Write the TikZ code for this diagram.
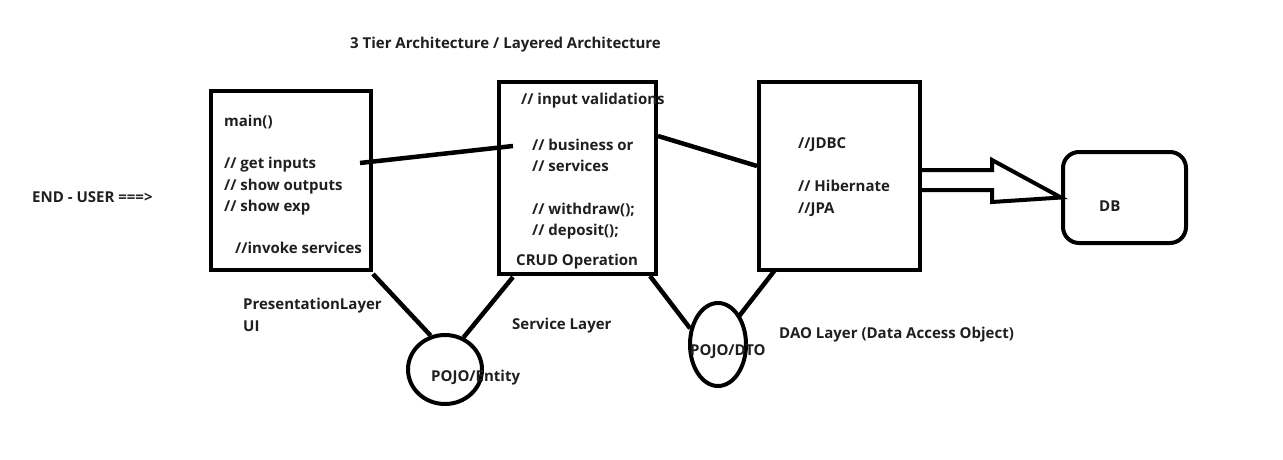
\documentclass[tikz,border=0pt]{standalone}
\usepackage{fontspec}
\setmainfont{Open Sans}
\usetikzlibrary{calc,shapes.geometric}
\begin{document}
\begin{tikzpicture}[x=1pt,y=-1pt,
  lbl/.style={anchor=base west,inner sep=0pt,font=\fontsize{15}{18}\selectfont\bfseries,text=black!88},
  layer/.style={draw,line width=4pt,rectangle,minimum width=#1,inner sep=0pt},
  pojo/.style={draw,line width=4pt,ellipse,inner sep=0pt},
  wire/.style={line width=4.5pt}]
\useasboundingbox (0,0) rectangle (1283,460);
% title & user
\node[lbl] (title) at (350,49) {3 Tier Architecture / Layered Architecture};
\node[lbl] (user) at (32,202) {END - USER ===>};
% boxes
\node[layer=160pt,minimum height=179pt] (b1) at (291,180.5) {};
\node[layer=157pt,minimum height=192pt] (b2) at (577.5,178) {};
\node[layer=161pt,minimum height=188pt] (b3) at (839.5,176) {};
\node[draw,line width=4pt,rounded corners=16pt,minimum width=123pt,minimum height=91pt,inner sep=0pt] (db) at (1124.5,197.5) {};
\node[lbl] (dbt) at (1099,211) {DB};
% box1 texts
\node[lbl] (main) at (224,126) {main()};
\node[lbl] (getin) at (224,168) {// get inputs};
\node[lbl] (showo) at (224,190) {// show outputs};
\node[lbl] (showe) at (224,211) {// show exp};
\node[lbl] (invk) at (235,253) {//invoke services};
% box2 texts
\node[lbl] (inval) at (521,104) {// input validations};
\node[lbl] (busor) at (532,150) {// business or};
\node[lbl] (serv) at (532,171) {// services};
\node[lbl] (wd) at (532,214) {// withdraw();};
\node[lbl] (dep) at (532,235) {// deposit();};
\node[lbl] (crud) at (516,265) {CRUD Operation};
% box3 texts
\node[lbl] (jdbc) at (798,148) {//JDBC};
\node[lbl] (hib) at (798,191) {// Hibernate};
\node[lbl] (jpa) at (798,213) {//JPA};
% layer labels
\node[lbl] (pres) at (243,309) {PresentationLayer};
\node[lbl] (ui) at (243,331) {UI};
\node[lbl] (svcl) at (512,329) {Service Layer};
\node[lbl] (dao) at (779,338) {DAO Layer (Data Access Object)};
% pojo ellipses
\node[pojo,minimum width=74pt,minimum height=69pt] (c1) at (445,369.5) {};
\node[pojo,minimum width=56pt,minimum height=83pt] (c2) at (718,344.5) {};
\node[lbl] (ent) at (431,381) {POJO/Entity};
\node[lbl] (dto) at (690,355) {POJO/DTO};
% connectors
\draw[wire] ($(getin.base west)+(136,-5)$) -- ($(busor.base west)+(-19,-4)$);
\draw[wire] ($(b2.north east)+(0,56)$) -- ($(b3.north west)+(0,86)$);
\draw[wire] ($(b1.south east)+(0,2)$) -- (c1.113);
\draw[wire] ($(b2.south west)+(16,1)$) -- (c1.60);
\draw[wire] ($(b2.south east)+(-8,0)$) -- (c2.150);
\draw[wire] ($(b3.south west)+(18,-2)$) -- ($(c2.center)+(20,-27)$);
% double arrow to DB
\draw[line width=4pt,line join=miter] ($(b3.east)+(0,-6)$) -- ++(70,0) -- ++(0,-10) -- (db.west) -- ($(b3.east)+(70,26)$) -- ++(0,-12) -- ++(-70,0);
\end{tikzpicture}
\end{document}
